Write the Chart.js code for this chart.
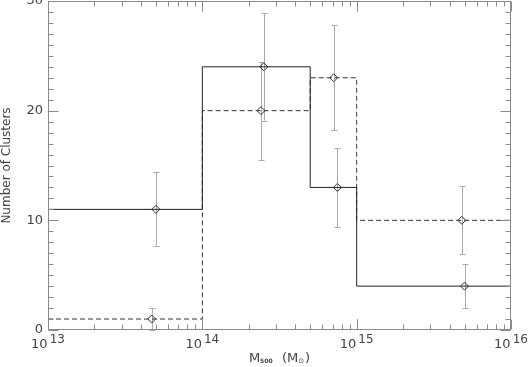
<!DOCTYPE html>
<html>
<head>
<meta charset="utf-8">
<script src="https://cdn.jsdelivr.net/npm/chart.js@4.4.1/dist/chart.umd.min.js"></script>
<style>
  html, body { margin: 0; padding: 0; background: #fff; }
  #wrap { width: 529px; height: 367px; }
</style>
</head>
<body>
<div id="wrap"><canvas id="massChart" width="529" height="367"></canvas></div>
<script>
// histogram bins (M500 in solar masses)
const binEdges = [1e13, 1e14, 5e14, 1e15, 1e16];
const solidCounts = [11, 24, 13, 4];
const dashedCounts = [1, 20, 23, 10];

// points with error bars
const solidMass = [5e13, 2.5e14, 7.5e14, 5e15];
const solidErrLo = [7.7, 19.1, 9.4, 2.0];
const solidErrHi = [14.4, 28.9, 16.6, 6.0];

const dashedMass = [4.7e13, 2.4e14, 7.1e14, 4.8e15];
const dashedErrLo = [0, 15.5, 18.2, 6.9];
const dashedErrHi = [2.0, 24.4, 27.8, 13.1];

// axis ticks
const xTickValues = [1e13, 1e14, 1e15, 1e16];
const xTickExponents = ['13', '14', '15', '16'];
const yTickValues = [0, 10, 20, 30];

const axisGray = '#8a8a8a';
const textGray = '#444';

function stepData(counts) {
    const pts = counts.map((c, i) => ({ x: binEdges[i], y: c }));
    pts.push({ x: binEdges[binEdges.length - 1], y: counts[counts.length - 1] });
    return pts;
}

function pointData(mass, counts) {
    return mass.map((m, i) => ({ x: m, y: counts[i] }));
}

const errorBarPlugin = {
    id: 'errorBars',
    beforeDatasetsDraw(chart) {
        const ctx = chart.ctx;
        const xs = chart.scales.x, ys = chart.scales.y;
        const sets = [
            [solidMass, solidErrLo, solidErrHi],
            [dashedMass, dashedErrLo, dashedErrHi]
        ];
        ctx.save();
        ctx.strokeStyle = '#aaaaaa';
        ctx.lineWidth = 1;
        sets.forEach(([mass, lo, hi]) => {
            mass.forEach((m, i) => {
                const px = Math.round(xs.getPixelForValue(m)) + 0.5;
                const y1 = ys.getPixelForValue(lo[i]);
                const y2 = ys.getPixelForValue(hi[i]);
                ctx.beginPath();
                ctx.moveTo(px, y1);
                ctx.lineTo(px, y2);
                ctx.moveTo(px - 3, Math.round(y1) + 0.5);
                ctx.lineTo(px + 3, Math.round(y1) + 0.5);
                ctx.moveTo(px - 3, Math.round(y2) + 0.5);
                ctx.lineTo(px + 3, Math.round(y2) + 0.5);
                ctx.stroke();
            });
        });
        ctx.restore();
    }
};

const frameTicksPlugin = {
    id: 'frameTicks',
    afterDraw(chart) {
        const ctx = chart.ctx;
        const a = chart.chartArea;
        const xs = chart.scales.x, ys = chart.scales.y;
        const L = Math.round(a.left) + 0.5, R = Math.round(a.right) - 0.5;
        const T = Math.round(a.top) + 0.5, B = Math.round(a.bottom) - 0.5;

        ctx.save();
        ctx.strokeStyle = axisGray;
        ctx.lineWidth = 1;
        ctx.strokeRect(L, T, R - L, B - T);

        ctx.beginPath();
        // x ticks, bottom and top
        for (let e = 13; e < 16; e++) {
            for (let k = 1; k <= 10; k++) {
                const v = k * Math.pow(10, e);
                const px = Math.round(xs.getPixelForValue(v)) + 0.5;
                const len = (k === 1 || k === 10) ? 10 : 5;
                ctx.moveTo(px, B); ctx.lineTo(px, B - len);
                ctx.moveTo(px, T); ctx.lineTo(px, T + len);
            }
        }
        // y ticks, left and right
        for (let v = 0; v <= 30; v++) {
            const py = Math.round(ys.getPixelForValue(v)) + 0.5;
            const len = v % 10 === 0 ? 10 : 5;
            ctx.moveTo(L, py); ctx.lineTo(L + len, py);
            ctx.moveTo(R, py); ctx.lineTo(R - len, py);
        }
        ctx.stroke();

        // x tick labels: 10 with raised exponent
        ctx.fillStyle = textGray;
        ctx.textBaseline = 'alphabetic';
        ctx.textAlign = 'left';
        xTickValues.forEach((v, i) => {
            const px = xs.getPixelForValue(v);
            ctx.font = '13px "DejaVu Sans"';
            const wBase = ctx.measureText('10').width;
            ctx.font = '12px "DejaVu Sans"';
            const wExp = ctx.measureText(xTickExponents[i]).width;
            const x0 = px - (wBase + 2 + wExp) / 2;
            ctx.font = '13px "DejaVu Sans"';
            ctx.fillText('10', x0, 348);
            ctx.font = '12px "DejaVu Sans"';
            ctx.fillText(xTickExponents[i], x0 + wBase + 2, 343);
        });

        // x axis title: M500 (M_sun)
        const parts = [
            ['M', '13px "DejaVu Sans"', 0],
            ['500', 'bold 6px "DejaVu Sans"', 1],
            ['  (M', '13px "DejaVu Sans"', 0],
            ['\u2299', '7px "DejaVu Sans"', 1],
            [')', '13px "DejaVu Sans"', 0]
        ];
        let total = 0;
        parts.forEach(p => { ctx.font = p[1]; total += ctx.measureText(p[0]).width + (p[2] ? 1 : 0); });
        let cx = (a.left + a.right) / 2 - total / 2;
        parts.forEach(p => {
            ctx.font = p[1];
            ctx.fillText(p[0], cx, p[2] ? 363 : 362);
            cx += ctx.measureText(p[0]).width + (p[2] ? 1 : 0);
        });
        ctx.restore();
    }
};

const ctx = document.getElementById('massChart').getContext('2d');
const massChart = new Chart(ctx, {
    type: 'scatter',
    data: {
        datasets: [
            {
                label: 'solid',
                data: stepData(solidCounts),
                showLine: true,
                stepped: 'before',
                borderColor: '#222',
                borderWidth: 1,
                pointRadius: 0,
                fill: false
            },
            {
                label: 'dashed',
                data: stepData(dashedCounts),
                showLine: true,
                stepped: 'before',
                borderColor: '#333',
                borderWidth: 1,
                borderDash: [5, 3],
                pointRadius: 0,
                fill: false
            },
            {
                label: 'solid points',
                data: pointData(solidMass, solidCounts),
                pointStyle: 'rectRot',
                pointRadius: 4,
                borderColor: '#333',
                borderWidth: 1,
                backgroundColor: 'rgba(255,255,255,0)'
            },
            {
                label: 'dashed points',
                data: pointData(dashedMass, dashedCounts),
                pointStyle: 'rectRot',
                pointRadius: 4,
                borderColor: '#333',
                borderWidth: 1,
                backgroundColor: 'rgba(255,255,255,0)'
            }
        ]
    },
    options: {
        responsive: false,
        animation: false,
        layout: { autoPadding: false, padding: { top: 1, right: 18, left: 0, bottom: 0 } },
        plugins: {
            legend: { display: false },
            tooltip: { enabled: false }
        },
        scales: {
            x: {
                type: 'logarithmic',
                min: 1e13,
                max: 1e16,
                grid: { display: false },
                border: { display: false },
                ticks: { display: false },
                afterFit: scale => {
                    scale.height = 37;
                    scale.paddingLeft = 0;
                    scale.paddingRight = 0;
                }
            },
            y: {
                type: 'linear',
                min: 0,
                max: 30,
                afterBuildTicks: scale => { scale.ticks = yTickValues.map(v => ({ value: v })); },
                grid: { display: false, drawTicks: false },
                border: { display: false },
                ticks: {
                    color: textGray,
                    padding: 5,
                    font: { family: 'DejaVu Sans', size: 13 }
                },
                title: {
                    display: true,
                    text: 'Number of Clusters',
                    color: textGray,
                    padding: { top: 0, bottom: 0 },
                    font: { family: 'DejaVu Sans', size: 12 }
                },
                afterFit: scale => {
                    scale.width = 48;
                    scale.paddingTop = 0;
                    scale.paddingBottom = 0;
                }
            }
        }
    },
    plugins: [errorBarPlugin, frameTicksPlugin]
});
</script>
</body>
</html>
